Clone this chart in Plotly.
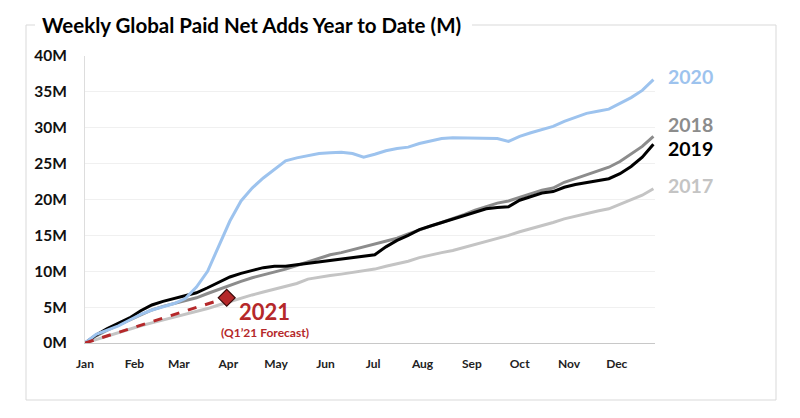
import datetime as dt
import plotly.graph_objects as go

# ---- data (cumulative paid net adds, millions, weekly) ----
weeks = [(dt.date(2021, 1, 1) + dt.timedelta(days=7 * i)).isoformat() for i in range(52)]

y2020 = [0, 1.2, 1.8, 2.4, 3.2, 4.0, 4.6, 5.1, 5.5, 6.2, 7.8, 10.0, 13.5, 17.0, 19.8, 21.6,
         23.0, 24.2, 25.4, 25.8, 26.1, 26.4, 26.5, 26.6, 26.4, 25.9, 26.3, 26.8, 27.1, 27.3,
         27.8, 28.2, 28.5, 28.6, 28.6, 28.6, 28.6, 28.5, 28.1, 28.8, 29.3, 29.8, 30.2, 30.9,
         31.5, 32.0, 32.3, 32.6, 33.4, 34.2, 35.2, 36.7]
y2019 = [0, 1.1, 2.0, 2.7, 3.5, 4.5, 5.3, 5.8, 6.2, 6.5, 7.0, 7.7, 8.4, 9.2, 9.7, 10.1,
         10.5, 10.7, 10.7, 10.9, 11.1, 11.3, 11.5, 11.8, 12.0, 12.2, 12.3, 13.4, 14.3, 15.0,
         15.8, 16.3, 16.8, 17.3, 17.8, 18.3, 18.7, 18.9, 19.0, 19.9, 20.4, 20.9, 21.1, 21.7,
         22.1, 22.4, 22.6, 22.9, 23.6, 24.6, 25.9, 27.7]
y2018 = [0, 1.0, 1.8, 2.5, 3.2, 4.0, 4.6, 5.1, 5.5, 5.9, 6.3, 6.9, 7.5, 8.1, 8.6, 9.1,
         9.5, 9.8, 10.3, 10.8, 11.3, 11.9, 12.3, 12.6, 13.0, 13.5, 13.9, 14.2, 14.6, 15.2,
         15.8, 16.3, 16.8, 17.3, 17.9, 18.5, 19.0, 19.5, 19.8, 20.3, 20.8, 21.3, 21.6, 22.4,
         22.9, 23.4, 24.0, 24.5, 25.3, 26.3, 27.4, 28.8]
y2017 = [0, 0.5, 1.0, 1.5, 2.0, 2.4, 2.8, 3.2, 3.5, 3.9, 4.3, 4.8, 5.3, 5.8, 6.3, 6.7,
         7.1, 7.5, 7.9, 8.3, 8.9, 9.2, 9.4, 9.6, 9.8, 10.0, 10.3, 10.7, 11.0, 11.4,
         11.9, 12.3, 12.6, 12.9, 13.3, 13.8, 14.2, 14.6, 15.0, 15.5, 15.9, 16.4, 16.8, 17.3,
         17.7, 18.0, 18.4, 18.7, 19.3, 19.9, 20.6, 21.5]
x2021 = ["2021-01-01", "2021-03-31"]
y2021 = [0, 6.3]

y_ticks = [0, 5, 10, 15, 20, 25, 30, 35, 40]

C2020 = "#9DC3EE"
C2019 = "#000000"
C2018 = "#8C8C8C"
C2017 = "#C4C4C4"
C2021 = "#B5282A"

fig = go.Figure()
for ys, col in [(y2017, C2017), (y2018, C2018), (y2019, C2019), (y2020, C2020)]:
    fig.add_trace(go.Scatter(x=weeks, y=ys, mode="lines",
                             line=dict(color=col, width=3), hoverinfo="skip"))
fig.add_trace(go.Scatter(x=x2021, y=y2021, mode="lines",
                         line=dict(color=C2021, width=3, dash="dash"), hoverinfo="skip"))
fig.add_trace(go.Scatter(x=x2021[-1:], y=y2021[-1:], mode="markers",
                         marker=dict(symbol="diamond", size=13, color=C2021,
                                     line=dict(color="#3A0A0A", width=1.2)),
                         hoverinfo="skip"))

# series labels at the right end (label positions in axis units)
labels = [("2020", 37.2, C2020), ("2018", 30.5, C2018),
          ("2019", 27.1, C2019), ("2017", 21.9, C2017)]
for txt, yv, col in labels:
    fig.add_annotation(x=1.0, xref="paper", y=yv, yref="y", text=f"<b>{txt}</b>",
                       showarrow=False, xanchor="left", xshift=11,
                       font=dict(size=19.5, color=col, family="Lato"))

fig.add_annotation(x=x2021[-1], y=y2021[-1], text="<b>2021</b>", showarrow=False,
                   xanchor="center", yanchor="middle", xshift=38, yshift=-14,
                   font=dict(size=22, color=C2021, family="Lato"))
fig.add_annotation(x=x2021[-1], y=y2021[-1], text="<b>(Q1\u201921 Forecast)</b>", showarrow=False,
                   xanchor="center", yanchor="middle", xshift=38, yshift=-35,
                   font=dict(size=12, color=C2021, family="Lato"))

# frame around chart (broken by title); page coords minus the 8px body margin
OFF = 8
PL, PT, PW, PH = 85, 56, 570, 287

def px_x(p):
    return (p - PL) / PW

def px_y(p):
    return (PT + PH - p) / PH

frame = dict(type="line", xref="paper", yref="paper", line=dict(color="#D9D9D9", width=1))
L, R, T, B = px_x(26), px_x(776), px_y(25), px_y(400)
fig.add_shape(x0=L, x1=L, y0=B, y1=T, **frame)
fig.add_shape(x0=R, x1=R, y0=B, y1=T, **frame)
fig.add_shape(x0=L, x1=R, y0=B, y1=B, **frame)
fig.add_shape(x0=L, x1=px_x(35), y0=T, y1=T, **frame)
fig.add_shape(x0=px_x(472), x1=R, y0=T, y1=T, **frame)

fig.update_layout(
    width=800, height=418,
    margin=dict(l=PL - OFF, r=800 - (PL - OFF) - PW, t=PT - OFF, b=418 - (PT - OFF) - PH),
    paper_bgcolor="white", plot_bgcolor="white",
    showlegend=False,
    title=dict(text="<b>Weekly Global Paid Net Adds Year to Date (M)</b>",
               x=(42 - OFF) / 800, xanchor="left", y=1 - (26 - OFF) / 418, yanchor="middle",
               font=dict(size=20.5, color="#000000", family="Lato")),
    xaxis=dict(type="date", range=["2021-01-01", "2021-12-25"], dtick="M1",
               tick0="2021-01-01", tickformat="%b", showgrid=False,
               showline=True, linecolor="#C8C8C8", linewidth=1, ticks="",
               tickfont=dict(size=12, color="#222222", family="Lato"),
               ticklabelstandoff=10),
    yaxis=dict(range=[0, 40], tickvals=y_ticks, ticktext=[f"{v}M" for v in y_ticks],
               showgrid=True, gridcolor="#F0F0F0", gridwidth=1, zeroline=False,
               showline=True, linecolor="#DDDDDD", ticks="",
               tickfont=dict(size=15.5, color="#111111", family="Lato"),
               ticklabelstandoff=14),
)
fig.update_xaxes(tickfont_weight="bold")
fig.update_yaxes(tickfont_weight="bold")

fig.write_html("out.html")
